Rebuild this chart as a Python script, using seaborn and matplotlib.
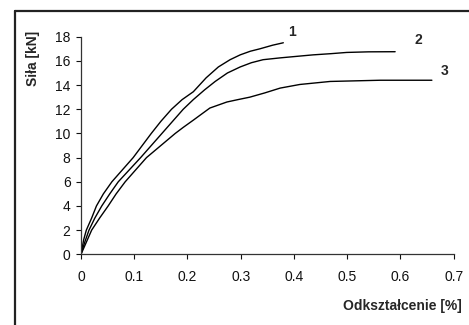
import seaborn as sns
import matplotlib.pyplot as plt
from matplotlib.lines import Line2D
import pandas as pd

# odczyty z wykresu: odkształcenie [%] i siła [kN]
x1 = [0, 0.005, 0.01, 0.02, 0.029, 0.042, 0.058, 0.078, 0.098, 0.115, 0.132, 0.150, 0.170,
      0.190, 0.211, 0.235, 0.258, 0.280, 0.299, 0.318, 0.336, 0.36, 0.38]
y1 = [0, 1.2, 2.0, 3.0, 4.0, 5.0, 6.0, 7.0, 8.0, 9.0, 10.0, 11.0, 12.0,
      12.8, 13.45, 14.6, 15.5, 16.1, 16.5, 16.8, 17.0, 17.3, 17.5]
x2 = [0, 0.007, 0.015, 0.026, 0.039, 0.054, 0.070, 0.091, 0.112, 0.132, 0.152, 0.172, 0.192,
      0.211, 0.232, 0.252, 0.275, 0.299, 0.32, 0.342, 0.374, 0.411, 0.436, 0.47, 0.499, 0.54, 0.59]
y2 = [0, 1.0, 2.0, 3.0, 4.0, 5.0, 6.0, 7.0, 8.0, 9.0, 10.0, 11.0, 12.0,
      12.8, 13.6, 14.3, 15.0, 15.5, 15.85, 16.1, 16.25, 16.4, 16.5, 16.6, 16.7, 16.75, 16.76]
x3 = [0, 0.01, 0.02, 0.035, 0.051, 0.066, 0.083, 0.103, 0.123, 0.15, 0.177, 0.192, 0.211,
      0.228, 0.242, 0.258, 0.274, 0.295, 0.317, 0.345, 0.374, 0.411, 0.468, 0.562, 0.659]
y3 = [0, 1.0, 2.0, 3.0, 4.0, 5.0, 6.0, 7.0, 8.0, 9.0, 10.0, 10.5, 11.1,
      11.65, 12.1, 12.35, 12.6, 12.8, 13.0, 13.35, 13.75, 14.05, 14.3, 14.4, 14.4]
names = ['1', '2', '3']

df = pd.concat([
    pd.DataFrame({'x': x1, 'y': y1, 'seria': names[0]}),
    pd.DataFrame({'x': x2, 'y': y2, 'seria': names[1]}),
    pd.DataFrame({'x': x3, 'y': y3, 'seria': names[2]}),
])

sns.set_style('ticks')
plt.rcParams['font.family'] = ['Liberation Sans', 'DejaVu Sans']

fig = plt.figure(figsize=(4.69, 3.25), dpi=100)
ax = fig.add_axes([0.1727, 0.2175, 0.7947, 0.6695])
sns.lineplot(data=df, x='x', y='y', hue='seria', palette=['black'] * 3,
             linewidth=1.0, sort=False, legend=False, ax=ax)

ax.set_xlim(0, 0.7)
ax.set_ylim(0, 18)
ax.set_xticks([0, 0.1, 0.2, 0.3, 0.4, 0.5, 0.6, 0.7])
ax.set_xticklabels(['0', '0.1', '0.2', '0.3', '0.4', '0.5', '0.6', '0.7'])
ax.set_yticks(range(0, 19, 2))
ax.tick_params(labelsize=10, colors='#111111', length=3.5, width=0.8, pad=4)
ax.tick_params(axis='x', pad=8)
sns.despine(ax=ax)
for s in ['left', 'bottom']:
    ax.spines[s].set_color('#333333')
    ax.spines[s].set_linewidth(0.9)

ax.set_xlabel('')
ax.set_ylabel('')
fig.text(462 / 469, 1 - 306 / 325, 'Odkształcenie [%]', ha='right', va='center',
         fontsize=10, fontweight='bold')
fig.text(33 / 469, 1 - 58 / 325, 'Siła [kN]', ha='center', va='center', rotation=90,
         fontsize=10, fontweight='bold')

for lab, xx, yy in zip(names, [0.396, 0.633, 0.682], [18.4, 17.7, 15.2]):
    ax.text(xx, yy, lab, fontsize=10, fontweight='bold', ha='center', va='center', clip_on=False)

# ramka wykresu
fig.add_artist(Line2D([15 / 469, 15 / 469], [0, 1 - 11 / 325], color='#222222', lw=1.6))
fig.add_artist(Line2D([15 / 469, 1], [1 - 11 / 325, 1 - 11 / 325], color='#222222', lw=1.6))

fig.savefig('out.png', dpi=100)
